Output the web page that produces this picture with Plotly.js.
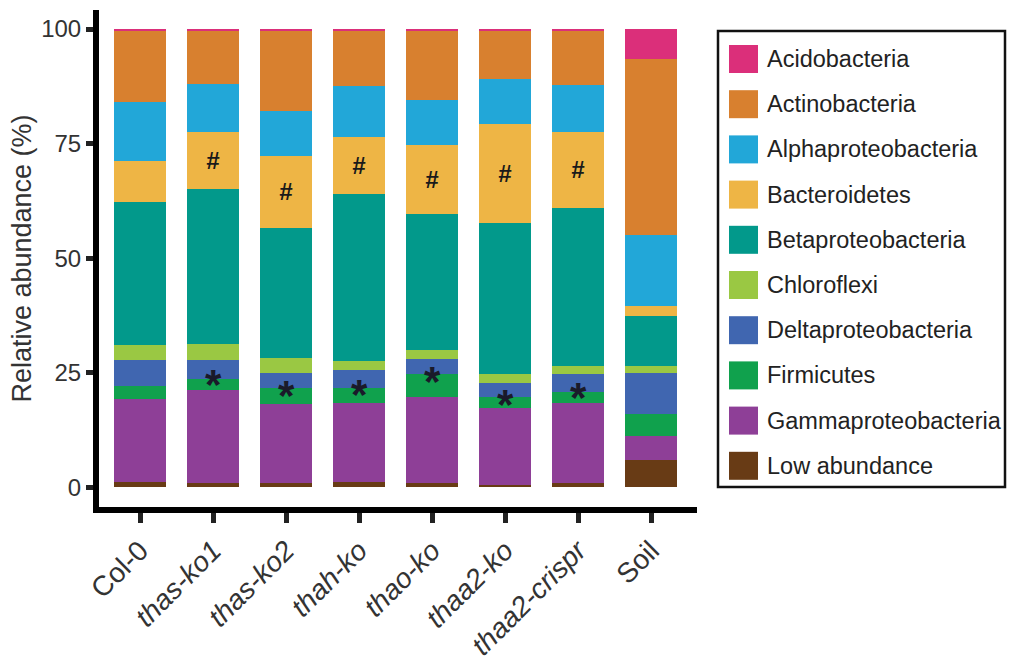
<!DOCTYPE html>
<html>
<head>
<meta charset="utf-8">
<script src="https://cdn.plot.ly/plotly-3.0.1.min.js"></script>
<style>html,body{margin:0;padding:0;background:#fff;}#chart{width:1012px;height:664px;}</style>
</head>
<body>
<div id="chart"></div>
<script>
// ---- data ----
const categories = ['Col-0','thas-ko1','thas-ko2','thah-ko','thao-ko','thaa2-ko','thaa2-crispr','Soil'];
const tickLabels = ['Col-0','<i>thas-ko1</i>','<i>thas-ko2</i>','<i>thah-ko</i>','<i>thao-ko</i>','<i>thaa2-ko</i>','<i>thaa2-crispr</i>','Soil'];

const lowAbundance        = [1.2, 1.0, 0.9, 1.1, 0.9, 0.4, 1.0, 6.0];
const gammaproteobacteria = [18.1, 20.3, 17.2, 17.2, 18.7, 17.0, 17.5, 5.2];
const firmicutes          = [2.8, 2.3, 3.5, 3.3, 5.1, 2.4, 2.4, 4.9];
const deltaproteobacteria = [5.7, 4.2, 3.3, 4.0, 3.2, 3.0, 3.8, 8.8];
const chloroflexi         = [3.2, 3.5, 3.3, 1.9, 2.1, 1.9, 1.8, 1.6];
const betaproteobacteria  = [31.3, 33.8, 28.4, 36.6, 29.6, 32.9, 34.4, 10.9];
const bacteroidetes       = [8.9, 12.4, 15.8, 12.4, 15.2, 21.7, 16.7, 2.2];
const alphaproteobacteria = [12.8, 10.6, 9.8, 11.1, 9.7, 9.8, 10.2, 15.5];
const actinobacteria      = [15.6, 11.5, 17.4, 12.0, 15.1, 10.5, 11.8, 38.4];
const acidobacteria       = [0.4, 0.4, 0.4, 0.4, 0.4, 0.4, 0.4, 6.5];

// significance marks (# on Bacteroidetes, * on Deltaproteobacteria)
const hashMarked = [false, true, true, true, true, true, true, false];
const starMarked = [false, true, true, true, true, true, true, false];

// stacking order bottom -> top
const seriesNames = ['Low abundance','Gammaproteobacteria','Firmicutes','Deltaproteobacteria','Chloroflexi',
  'Betaproteobacteria','Bacteroidetes','Alphaproteobacteria','Actinobacteria','Acidobacteria'];
const seriesValues = [lowAbundance, gammaproteobacteria, firmicutes, deltaproteobacteria, chloroflexi,
  betaproteobacteria, bacteroidetes, alphaproteobacteria, actinobacteria, acidobacteria];
const seriesColors = ['#683B15','#8E3F97','#10A14D','#4066B0','#9AC843',
  '#02998B','#EEB545','#22A7D8','#D8802F','#DB2F7A'];

// ---- traces ----
const traces = seriesNames.map((n, i) => ({
  type: 'bar', name: n, x: categories, y: seriesValues[i],
  marker: {color: seriesColors[i], line: {width: 0}},
  width: 0.7, showlegend: false, hoverinfo: 'x+y+name'
}));

// ---- geometry helpers (layout only) ----
const W = 1012, H = 664;
const M = {l: 99, r: 315, t: 10, b: 157};
const pw = W - M.l - M.r, ph = H - M.t - M.b;
const px = x => (x - M.l) / pw;
const py = y => (H - M.b - y) / ph;

const font = '"Liberation Sans", Arial, Helvetica, sans-serif';

// ---- annotations for # and * at segment midpoints ----
const annotations = [];
function cumBelow(k, j) { let s = 0; for (let i = 0; i < k; i++) s += seriesValues[i][j]; return s; }
categories.forEach((c, j) => {
  if (hashMarked[j]) {
    const k = seriesNames.indexOf('Bacteroidetes');
    annotations.push({x: c, y: cumBelow(k, j) + seriesValues[k][j] / 2, xref: 'x', yref: 'y',
      text: '<b><i>#</i></b>', showarrow: false, font: {family: font, size: 24, color: '#1a1a1a'}, yanchor: 'middle'});
  }
  if (starMarked[j]) {
    const k = seriesNames.indexOf('Deltaproteobacteria');
    annotations.push({x: c, y: cumBelow(k, j) + seriesValues[k][j] / 2, xref: 'x', yref: 'y',
      text: '<b>*</b>', showarrow: false, font: {family: font, size: 42, color: '#1a1a2a'}, yanchor: 'middle', yshift: -15});
  }
});

// ---- custom legend (top -> bottom) ----
const shapes = [];
shapes.push({type: 'rect', xref: 'paper', yref: 'paper', x0: px(718), x1: px(1005), y0: py(31), y1: py(487),
  line: {color: '#111', width: 2.5}, fillcolor: 'rgba(0,0,0,0)'});
const legendOrder = seriesNames.slice().reverse();
legendOrder.forEach((n, i) => {
  const ci = seriesNames.indexOf(n);
  const cy = 59 + i * 45.2;
  shapes.push({type: 'rect', xref: 'paper', yref: 'paper', x0: px(729), x1: px(758), y0: py(cy - 14), y1: py(cy + 14),
    line: {width: 0}, fillcolor: seriesColors[ci]});
  annotations.push({xref: 'paper', yref: 'paper', x: px(765), y: py(cy), xanchor: 'left', yanchor: 'middle',
    text: n, showarrow: false, font: {family: font, size: 23.5, color: '#222'}});
});

const layout = {
  width: W, height: H,
  margin: M,
  paper_bgcolor: '#fff', plot_bgcolor: '#fff',
  barmode: 'stack',
  bargap: 0.3,
  showlegend: false,
  font: {family: font, color: '#333'},
  xaxis: {
    type: 'category', range: [-0.562, 7.63],
    tickmode: 'array', tickvals: categories, ticktext: tickLabels,
    tickangle: -45, tickfont: {size: 28, color: '#333'},
    showline: true, linecolor: '#000', linewidth: 6,
    ticks: 'outside', ticklen: 10, tickwidth: 5, tickcolor: '#222',
    showgrid: false, zeroline: false, fixedrange: true
  },
  yaxis: {
    range: [-4.30, 104.15],
    tickvals: [0, 25, 50, 75, 100],
    tickfont: {size: 24, color: '#333'},
    showline: true, linecolor: '#000', linewidth: 6,
    ticks: 'outside', ticklen: 7, tickwidth: 5, tickcolor: '#222',
    showgrid: false, zeroline: false, fixedrange: true,
    title: {text: 'Relative abundance (%)', font: {size: 27, color: '#333'}, standoff: 4}
  },
  annotations: annotations,
  shapes: shapes
};

Plotly.newPlot('chart', traces, layout, {displayModeBar: false, staticPlot: true});
</script>
</body>
</html>
